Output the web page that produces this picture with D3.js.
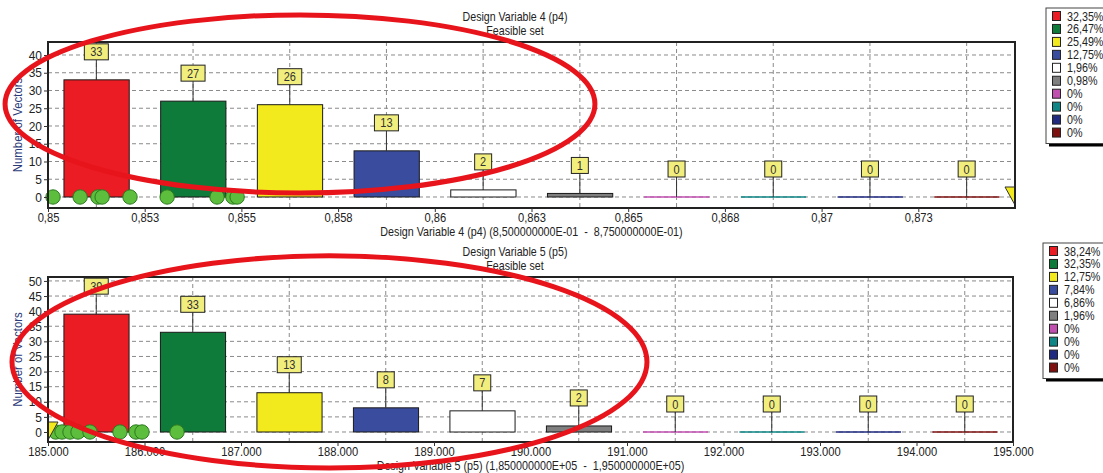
<!DOCTYPE html>
<html>
<head>
<meta charset="utf-8">
<script src="https://cdn.jsdelivr.net/npm/d3@7"></script>
<style>
  body { margin: 0; background: #fff; }
  text { font-family: "Liberation Sans", Arial, sans-serif; }
</style>
</head>
<body>
<div id="chart"></div>
<script>
// data
const binColors = ["#ec1c24", "#0f7b3b", "#f2ea1c", "#3a4c9e", "#ffffff", "#7f7f7f", "#c04fb0", "#0f8585", "#1f2a80", "#7f1010"];

// Design Variable 4
const p4Range = [0.85, 0.875];
const p4Counts = [33, 27, 26, 13, 2, 1, 0, 0, 0, 0];
const p4Pct = ["32,35%", "26,47%", "25,49%", "12,75%", "1,96%", "0,98%", "0%", "0%", "0%", "0%"];
const p4TickValues = [0.85, 0.8525, 0.855, 0.8575, 0.86, 0.8625, 0.865, 0.8675, 0.87, 0.8725];
const p4TickLabels = ["0,85", "0,853", "0,855", "0,858", "0,86", "0,863", "0,865", "0,868", "0,87", "0,873"];
const p4Points = [0.85013, 0.85083, 0.85129, 0.8514, 0.85212, 0.85308, 0.85437, 0.85478, 0.85489];
const p4Current = 0.875;
const p4YTicks = [0, 5, 10, 15, 20, 25, 30, 35, 40];

// Design Variable 5
const p5Range = [185000, 195000];
const p5Counts = [39, 33, 13, 8, 7, 2, 0, 0, 0, 0];
const p5Pct = ["38,24%", "32,35%", "12,75%", "7,84%", "6,86%", "1,96%", "0%", "0%", "0%", "0%"];
const p5TickValues = [185000, 186000, 187000, 188000, 189000, 190000, 191000, 192000, 193000, 194000, 195000];
const p5TickLabels = ["185.000", "186.000", "187.000", "188.000", "189.000", "190.000", "191.000", "192.000", "193.000", "194.000", "195.000"];
const p5Points = [185080, 185145, 185228, 185311, 185435, 185746, 185912, 185974, 186337];
const p5Current = 185000;
const p5YTicks = [0, 5, 10, 15, 20, 25, 30, 35, 40, 45, 50];

// red hand-drawn annotations, in data units [xMin, xMax, yMin, yMax]
const p4Ellipse = [0.84889, 0.86414, 1.1, 51.3];
const p5Ellipse = [185000 - 373, 185000 + 6207, -11.9, 58.3];

const width = 1103, height = 473;

const svg = d3.select("#chart")
  .append("svg")
  .attr("width", width)
  .attr("height", height)
  .style("background", "#fff");

// the original font is narrower than anything installed, so squeeze text horizontally
function squeeze(sel, k) {
  sel.each(function () {
    const t = d3.select(this);
    const ax = +t.attr("x") || 0;
    const old = t.attr("transform") || "";
    t.attr("transform", `${old} translate(${ax},0) scale(${k},1) translate(${-ax},0)`);
  });
}

function drawPanel(o) {
  const g = svg.append("g");

  const x = d3.scaleLinear().domain(o.xRange).range([o.left, o.right]);
  const y = d3.scaleLinear().domain(o.yDomain).range([o.bottom, o.top]);
  const n = o.counts.length;
  const bw = (o.xRange[1] - o.xRange[0]) / n;
  const bins = o.counts.map((c, i) => ({
    i: i,
    count: c,
    x0: o.xRange[0] + i * bw,
    mid: o.xRange[0] + (i + 0.5) * bw
  }));

  // grid
  g.selectAll(".hgrid")
    .data(o.yTicks)
    .join("line")
    .attr("x1", o.left).attr("x2", o.right)
    .attr("y1", d => y(d)).attr("y2", d => y(d))
    .attr("stroke", "#8a8a8a")
    .attr("stroke-dasharray", "4,3");

  g.selectAll(".vgrid")
    .data(bins)
    .join("line")
    .attr("x1", d => x(d.mid)).attr("x2", d => x(d.mid))
    .attr("y1", o.top).attr("y2", o.bottom)
    .attr("stroke", "#8a8a8a")
    .attr("stroke-dasharray", "4,3");

  // bars with a count
  g.selectAll(".bar")
    .data(bins.filter(d => d.count > 0))
    .join("rect")
    .attr("x", d => x(d.x0 + bw * 0.165))
    .attr("width", d => x(d.x0 + bw * 0.84) - x(d.x0 + bw * 0.165))
    .attr("y", d => y(d.count))
    .attr("height", d => y(0) - y(d.count))
    .attr("fill", d => binColors[d.i])
    .attr("stroke", "#1a1a1a")
    .attr("stroke-width", 1);

  // empty bins: just a coloured line on zero
  g.selectAll(".zero")
    .data(bins.filter(d => d.count === 0))
    .join("line")
    .attr("x1", d => x(d.x0 + bw * 0.165))
    .attr("x2", d => x(d.x0 + bw * 0.84))
    .attr("y1", y(0)).attr("y2", y(0))
    .attr("stroke", d => binColors[d.i])
    .attr("stroke-opacity", 0.75)
    .attr("stroke-width", 2);

  // value labels
  const lab = g.selectAll(".lab")
    .data(bins)
    .join("g")
    .attr("transform", d => `translate(${x(d.mid)},${y(d.count) - 20})`);

  lab.append("line")
    .attr("x1", 0).attr("x2", 0)
    .attr("y1", 0).attr("y2", 20)
    .attr("stroke", "#333");

  lab.append("rect")
    .attr("x", d => String(d.count).length > 1 ? -12 : -8.5)
    .attr("width", d => String(d.count).length > 1 ? 24 : 17)
    .attr("y", -16)
    .attr("height", 16)
    .attr("fill", "#f2ee7e")
    .attr("stroke", "#222");

  squeeze(lab.append("text")
    .attr("y", -3.5)
    .attr("text-anchor", "middle")
    .attr("font-size", 12.5)
    .attr("fill", "#333")
    .text(d => d.count), 0.88);

  // sample points
  g.selectAll(".pt")
    .data(o.points)
    .join("circle")
    .attr("cx", d => x(d))
    .attr("cy", y(0))
    .attr("r", 7.2)
    .attr("fill", "#5dbd3c")
    .attr("stroke", "#2b7a1f")
    .attr("stroke-width", 1);

  // current value marker
  const cx = x(o.current), cy = y(0);
  const s = o.markerSide;
  g.append("path")
    .attr("d", `M${cx},${cy - 10}L${cx - s * 10},${cy - 10}L${cx},${cy + 8}Z`)
    .attr("fill", "#f2ea1c")
    .attr("stroke", "#333");

  // frame
  g.append("rect")
    .attr("x", o.left).attr("y", o.top)
    .attr("width", o.right - o.left).attr("height", o.bottom - o.top)
    .attr("fill", "none")
    .attr("stroke", "#222")
    .attr("stroke-width", 2);

  // axes
  const xa = g.append("g")
    .attr("transform", `translate(0,${o.bottom})`)
    .call(d3.axisBottom(x).tickValues(o.xTicks).tickFormat((d, i) => o.xTickLabels[i]).tickSize(4).tickPadding(1));
  const ya = g.append("g")
    .attr("transform", `translate(${o.left},0)`)
    .call(d3.axisLeft(y).tickValues(o.yTicks).tickSize(4).tickPadding(2));
  [xa, ya].forEach(a => {
    a.select(".domain").remove();
    a.selectAll("text").attr("font-size", 13).attr("fill", "#222").style("font-family", null);
    a.selectAll("line").attr("stroke", "#333");
  });
  squeeze(xa.selectAll("text"), 0.86);
  squeeze(ya.selectAll("text"), 0.92);

  // titles
  squeeze(g.append("text").attr("x", 515).attr("y", o.top - 21)
    .attr("text-anchor", "middle").attr("font-size", 12.5).attr("fill", "#222")
    .text(o.title), 0.85);
  squeeze(g.append("text").attr("x", 515).attr("y", o.top - 7)
    .attr("text-anchor", "middle").attr("font-size", 12.5).attr("fill", "#222")
    .text("Feasible set"), 0.85);
  squeeze(g.append("text").attr("x", (o.left + o.right) / 2).attr("y", o.bottom + 28)
    .attr("text-anchor", "middle").attr("font-size", 12.5).attr("fill", "#222")
    .style("white-space", "pre")
    .text(o.xTitle), 0.86);
  squeeze(g.append("text")
    .attr("transform", `translate(${o.left - 26},${(o.top + o.bottom) / 2}) rotate(-90)`)
    .attr("text-anchor", "middle").attr("font-size", 13).attr("fill", "#2b3a78")
    .text("Number of Vectors"), 0.88);

  // legend
  const lx = o.legendX, ly = o.legendY, step = 12.95;
  const lh = step * n + 6;
  g.append("rect").attr("x", lx + 3).attr("y", ly + 3).attr("width", 80).attr("height", lh)
    .attr("fill", "#000");
  g.append("rect").attr("x", lx).attr("y", ly).attr("width", 80).attr("height", lh)
    .attr("fill", "#fff").attr("stroke", "#444");
  const li = g.selectAll(".leg")
    .data(o.pct)
    .join("g")
    .attr("transform", (d, i) => `translate(${lx},${ly + 8 + i * step})`);
  li.append("rect").attr("x", 6.5).attr("y", -4.5).attr("width", 8).attr("height", 9)
    .attr("fill", (d, i) => binColors[i]).attr("stroke", "#222");
  squeeze(li.append("text").attr("x", 21).attr("y", 4.5).attr("font-size", 12.5).attr("fill", "#222")
    .text(d => d), 0.86);

  // red annotation ellipse
  const e = o.ellipse;
  g.append("ellipse")
    .attr("cx", (x(e[0]) + x(e[1])) / 2)
    .attr("cy", (y(e[2]) + y(e[3])) / 2)
    .attr("rx", (x(e[1]) - x(e[0])) / 2)
    .attr("ry", (y(e[2]) - y(e[3])) / 2)
    .attr("fill", "none")
    .attr("stroke", "#e8141c")
    .attr("stroke-width", 5);
}

drawPanel({
  left: 48, right: 1015, top: 42, bottom: 208,
  xRange: p4Range, yDomain: [-3.1, 43.66],
  xTicks: p4TickValues, xTickLabels: p4TickLabels, yTicks: p4YTicks,
  counts: p4Counts, pct: p4Pct, points: p4Points,
  current: p4Current, markerSide: 1,
  title: "Design Variable 4 (p4)",
  xTitle: "Design Variable 4 (p4) (8,500000000E-01  -  8,750000000E-01)",
  legendX: 1046, legendY: 8,
  ellipse: p4Ellipse
});

drawPanel({
  left: 48, right: 1013, top: 277, bottom: 442,
  xRange: p5Range, yDomain: [-3.31, 51.3],
  xTicks: p5TickValues, xTickLabels: p5TickLabels, yTicks: p5YTicks,
  counts: p5Counts, pct: p5Pct, points: p5Points,
  current: p5Current, markerSide: -1,
  title: "Design Variable 5 (p5)",
  xTitle: "Design Variable 5 (p5) (1,850000000E+05  -  1,950000000E+05)",
  legendX: 1043, legendY: 243,
  ellipse: p5Ellipse
});
</script>
</body>
</html>
